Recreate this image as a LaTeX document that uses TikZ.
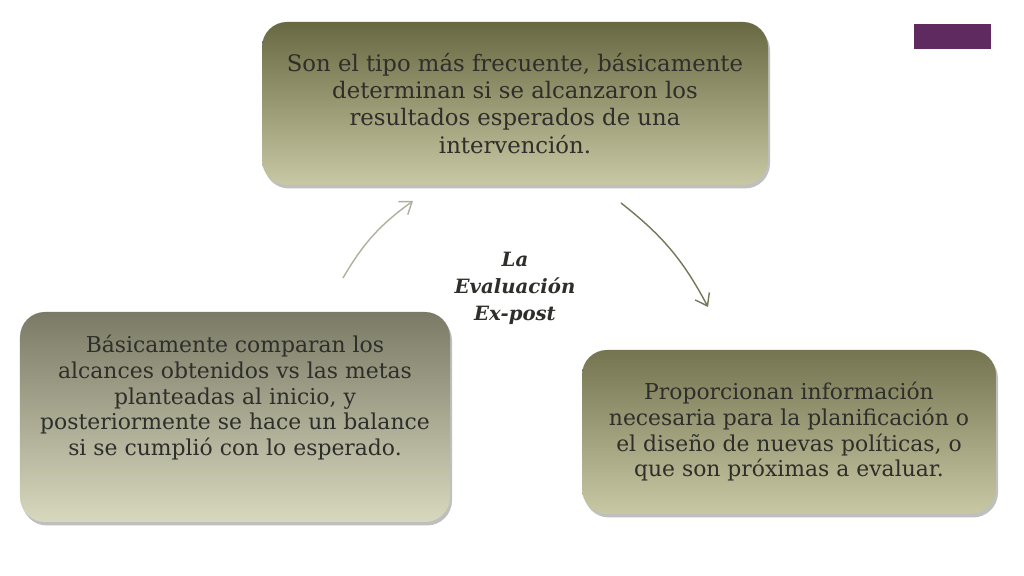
\documentclass[tikz,border=0pt]{standalone}
\usepackage{fontspec}
\setmainfont{DejaVu Serif}
\usetikzlibrary{arrows.meta,shadows}

\definecolor{olivaTop}{RGB}{104,104,66}
\definecolor{olivaBot}{RGB}{200,200,164}
\definecolor{grisTop}{RGB}{122,122,102}
\definecolor{grisBot}{RGB}{216,216,190}
\definecolor{texto}{RGB}{46,46,42}
\definecolor{morado}{RGB}{94,42,96}
\definecolor{flechaA}{RGB}{176,176,156}
\definecolor{flechaB}{RGB}{118,118,88}

\tikzset{
  caja/.style={rounded corners=0.5cm, align=center, text=texto,
    font=\fontsize{12.45}{14.6}\selectfont,
    drop shadow={shadow xshift=0.04cm, shadow yshift=-0.07cm, opacity=0.25, fill=black}},
  flecha/.style={line width=0.8pt, -{Straight Barb[length=2.2mm,width=3.2mm]}}
}

\begin{document}
\begin{tikzpicture}
        \useasboundingbox (0,0) rectangle (20.48,11.52);
        \fill[white] (0,0) rectangle (20.48,11.52);
        \node[fill=morado, minimum width=1.54cm, minimum height=0.5cm, inner sep=0] (marca) at (19.05,10.79) {};
        \node[caja, top color=olivaTop, bottom color=olivaBot, minimum width=10.12cm, minimum height=3.26cm,
              font=\fontsize{12.95}{15.4}\selectfont] (tipo) at (10.3,9.45)
              {Son el tipo más frecuente, básicamente\\ determinan si se alcanzaron los\\ resultados esperados de una\\ intervención.};
        \node[caja, top color=grisTop, bottom color=grisBot, minimum width=8.6cm, minimum height=4.2cm] (comparan) at (4.7,3.18)
              {Básicamente comparan los\\ alcances obtenidos vs las metas\\ planteadas al inicio, y\\ posteriormente se hace un balance\\ si se cumplió con lo esperado.\\[10pt]\mbox{}};
        \node[caja, top color=olivaTop!92!white, bottom color=olivaBot, minimum width=8.28cm, minimum height=3.28cm] (proporcionan) at (15.78,2.88)
              {Proporcionan información\\ necesaria para la planificación o\\ el diseño de nuevas políticas, o\\ que son próximas a evaluar.};
        \node[align=center, text=texto, font=\fontsize{11.2}{15.4}\selectfont\bfseries\itshape] (evalua) at (10.3,5.76)
              {La\\ Evaluación\\ Ex-post};
        \coordinate (a1) at (6.86,5.96);
        \coordinate (a2) at (8.26,7.5);
        \coordinate (b1) at (12.42,7.46);
        \coordinate (b2) at (14.16,5.38);
        \draw[flecha, flechaA] (a1) to[bend left=12] (a2);
        \draw[flecha, flechaB] (b1) to[bend left=12] (b2);
      \end{tikzpicture}
\end{document}
